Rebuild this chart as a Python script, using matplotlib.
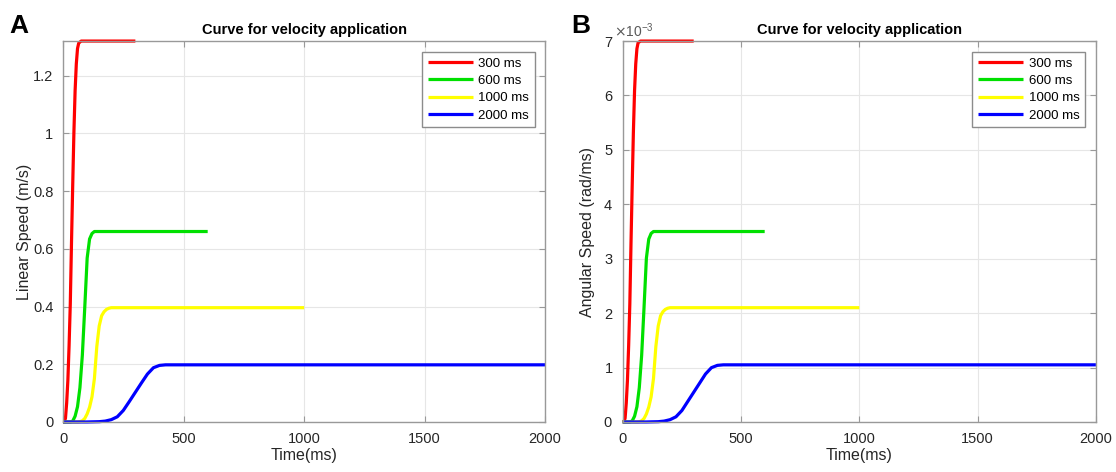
import numpy as np
import matplotlib.pyplot as plt
from matplotlib.ticker import ScalarFormatter

# durations of the velocity application
labels = ['300 ms', '600 ms', '1000 ms', '2000 ms']
colors = ['#ff0000', '#00e000', '#ffff00', '#0000ff']

# time samples (ms)
t_300 = [0, 5, 10, 15, 20, 25, 30, 35, 40, 45, 50, 55, 60, 65, 75, 300]
t_600 = [0, 30, 40, 50, 60, 70, 80, 90, 100, 110, 120, 130, 600]
t_1000 = [0, 60, 70, 80, 90, 100, 110, 120, 130, 140, 150, 160, 170, 180, 190, 200, 215, 1000]
t_2000 = [0, 100, 150, 175, 200, 225, 250, 275, 300, 325, 350, 375, 400, 425, 450, 2000]

# linear speed (m/s)
lin_300 = [0, 0, 0.013, 0.066, 0.145, 0.264, 0.409, 0.620, 0.818, 1.003, 1.148, 1.241, 1.294, 1.313, 1.32, 1.32]
lin_600 = [0, 0, 0.003, 0.020, 0.053, 0.119, 0.231, 0.396, 0.568, 0.634, 0.653, 0.66, 0.66]
lin_1000 = [0, 0, 0.001, 0.004, 0.012, 0.028, 0.051, 0.087, 0.150, 0.261, 0.333, 0.368, 0.382, 0.390, 0.394, 0.396, 0.396, 0.396]
lin_2000 = [0, 0, 0.001, 0.003, 0.008, 0.018, 0.040, 0.071, 0.103, 0.135, 0.166, 0.188, 0.196, 0.198, 0.198, 0.198]

# angular speed (x1e-3 rad/ms)
ang_300 = [0, 0, 0.07, 0.35, 0.77, 1.40, 2.17, 3.29, 4.34, 5.32, 6.09, 6.58, 6.86, 6.97, 7.0, 7.0]
ang_600 = [0, 0, 0.02, 0.105, 0.28, 0.63, 1.225, 2.10, 3.01, 3.36, 3.465, 3.5, 3.5]
ang_1000 = [0, 0, 0.004, 0.021, 0.063, 0.147, 0.273, 0.462, 0.798, 1.386, 1.764, 1.953, 2.027, 2.069, 2.090, 2.1, 2.1, 2.1]
ang_2000 = [0, 0, 0.005, 0.016, 0.042, 0.095, 0.21, 0.378, 0.546, 0.714, 0.882, 0.998, 1.040, 1.05, 1.05, 1.05]

plt.rcParams['font.family'] = ['Liberation Sans', 'DejaVu Sans']

fig = plt.figure(figsize=(11.16, 4.72), dpi=100)
ax1 = fig.add_axes([0.0565, 0.106, 0.432, 0.807])
ax2 = fig.add_axes([0.558, 0.106, 0.424, 0.807])

times = [t_300, t_600, t_1000, t_2000]

def style_axis(ax):
    ax.grid(True, color='#e6e6e6', linewidth=0.8)
    ax.set_axisbelow(True)
    for s in ax.spines.values():
        s.set_color('#999999')
        s.set_linewidth(1.0)
    ax.tick_params(direction='in', top=True, right=True, colors='#999999',
                   labelcolor='#262626', labelsize=10.5, length=4, pad=7)
    ax.set_xlim(0, 2000)
    ax.set_xticks([0, 500, 1000, 1500, 2000])
    ax.set_title('Curve for velocity application', fontsize=10.5, fontweight='bold', pad=5)
    ax.set_xlabel('Time(ms)', fontsize=11.5, color='#262626', labelpad=2)
    leg = ax.legend(loc='upper right', fontsize=9.5, handlelength=3.4, fancybox=False,
                    framealpha=1, edgecolor='#8c8c8c', borderaxespad=0.8,
                    labelspacing=0.38, handletextpad=0.4, borderpad=0.45)
    leg.get_frame().set_linewidth(1.0)

for t, y, c, lab in zip(times, [lin_300, lin_600, lin_1000, lin_2000], colors, labels):
    ax1.plot(t, y, color=c, lw=2.3, label=lab, solid_capstyle='butt', clip_on=False)
ax1.set_ylim(0, 1.32)
ax1.set_yticks([0, 0.2, 0.4, 0.6, 0.8, 1.0, 1.2])
ax1.set_yticklabels(['0', '0.2', '0.4', '0.6', '0.8', '1', '1.2'])
ax1.set_ylabel('Linear Speed (m/s)', fontsize=11.5, color='#262626', labelpad=1)
style_axis(ax1)

for t, y, c, lab in zip(times, [ang_300, ang_600, ang_1000, ang_2000], colors, labels):
    ax2.plot(t, np.array(y) * 1e-3, color=c, lw=2.3, label=lab, solid_capstyle='butt', clip_on=False)
ax2.set_ylim(0, 7e-3)
fmt = ScalarFormatter(useMathText=True)
fmt.set_powerlimits((-2, 2))
ax2.yaxis.set_major_formatter(fmt)
ax2.set_ylabel('Angular Speed (rad/ms)', fontsize=11.5, color='#262626', labelpad=6)
style_axis(ax2)
off = ax2.yaxis.get_offset_text()
off.set_fontsize(10)
off.set_color('#595959')
off.set_x(-0.018)

fig.text(0.008, 0.93, 'A', fontsize=19, fontweight='bold')
fig.text(0.512, 0.93, 'B', fontsize=19, fontweight='bold')

fig.savefig('out.png', dpi=100)
